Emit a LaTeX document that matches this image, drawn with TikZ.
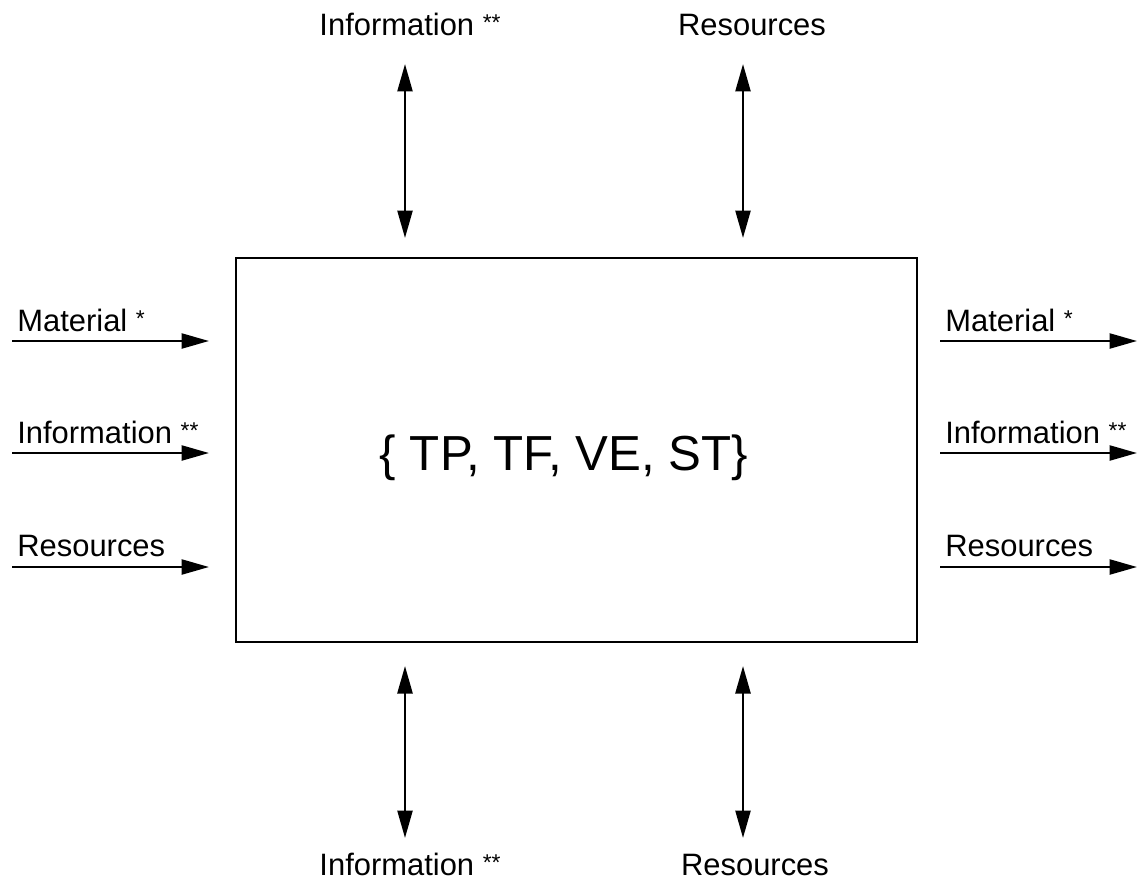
\documentclass[tikz,border=0pt]{standalone}
\usepackage{fontspec}
\setmainfont{Liberation Sans}
\usetikzlibrary{arrows.meta}
\newcommand{\stars}[1]{\ {\fontsize{13}{13}\selectfont\raisebox{0.2em}{#1}}}
\begin{document}
\begin{tikzpicture}[x=0.02cm,y=-0.02cm,
  lbl/.style={inner sep=0pt,font=\fontsize{17.6}{20}\selectfont},
  flow/.style={line width=1.4pt,-{Triangle[length=0.55cm,width=0.3cm]}},
  biflow/.style={line width=1.4pt,{Triangle[length=0.55cm,width=0.3cm]}-{Triangle[length=0.55cm,width=0.3cm]}}]
\useasboundingbox (0,0) rectangle (1146,886);
% central box
\node[draw,line width=1.3pt,minimum width=681*0.02cm,minimum height=384*0.02cm,inner sep=0pt] (sys) at (576.5,450) {};
\node[inner sep=0pt,anchor=base,font=\fontsize{28}{32}\selectfont] (set) at (564,470) {\{ TP, TF, VE, ST\}};
% left inputs
\coordinate (l1s) at (12,341); \coordinate (l1e) at (209,341);
\coordinate (l2s) at (12,453); \coordinate (l2e) at (209,453);
\coordinate (l3s) at (12,567); \coordinate (l3e) at (209,567);
\node[lbl,anchor=base west] (lt1) at (17,331) {Material\stars{*}};
\node[lbl,anchor=base west] (lt2) at (17,443) {Information\stars{**}};
\node[lbl,anchor=base west] (lt3) at (17,556) {Resources};
\draw[flow] (l1s) -- (l1e);
\draw[flow] (l2s) -- (l2e);
\draw[flow] (l3s) -- (l3e);
% right outputs
\coordinate (r1s) at (940,341); \coordinate (r1e) at (1137,341);
\coordinate (r2s) at (940,453); \coordinate (r2e) at (1137,453);
\coordinate (r3s) at (940,567); \coordinate (r3e) at (1137,567);
\node[lbl,anchor=base west] (rt1) at (945,331) {Material\stars{*}};
\node[lbl,anchor=base west] (rt2) at (945,443) {Information\stars{**}};
\node[lbl,anchor=base west] (rt3) at (945,556) {Resources};
\draw[flow] (r1s) -- (r1e);
\draw[flow] (r2s) -- (r2e);
\draw[flow] (r3s) -- (r3e);
% top exchanges
\coordinate (t1a) at (405,64); \coordinate (t1b) at (405,238);
\coordinate (t2a) at (743,64); \coordinate (t2b) at (743,238);
\node[lbl,anchor=base] (tt1) at (410,35) {Information\stars{**}};
\node[lbl,anchor=base] (tt2) at (752,35) {Resources};
\draw[biflow] (t1a) -- (t1b);
\draw[biflow] (t2a) -- (t2b);
% bottom exchanges
\coordinate (b1a) at (405,666); \coordinate (b1b) at (405,838);
\coordinate (b2a) at (743,666); \coordinate (b2b) at (743,838);
\node[lbl,anchor=base] (bt1) at (410,875) {Information\stars{**}};
\node[lbl,anchor=base] (bt2) at (755,875) {Resources};
\draw[biflow] (b1a) -- (b1b);
\draw[biflow] (b2a) -- (b2b);
\end{tikzpicture}
\end{document}
